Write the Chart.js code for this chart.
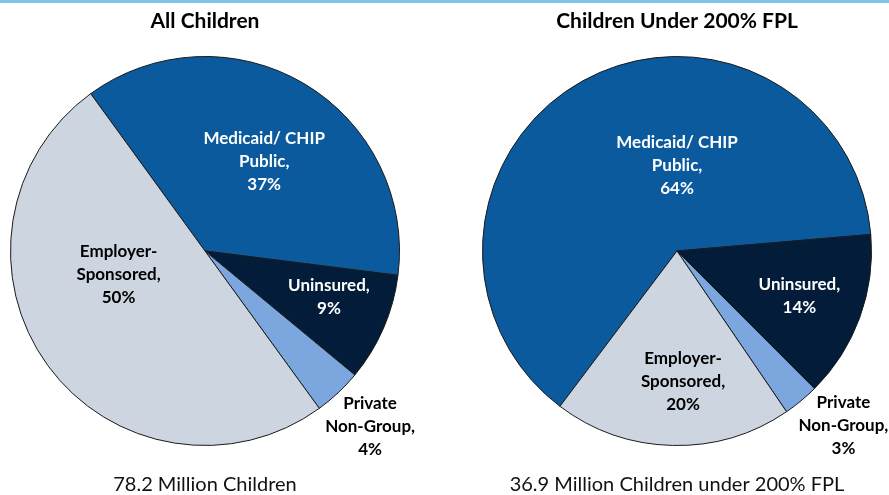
<!DOCTYPE html>
<html>
<head>
<meta charset="utf-8">
<script src="https://cdn.jsdelivr.net/npm/chart.js@4.4.0/dist/chart.umd.min.js"></script>
<style>
  html, body { margin: 0; padding: 0; background: #fff; }
  body { width: 889px; height: 495px; position: relative; overflow: hidden; }
  #barra { position: absolute; left: 0; top: 0; width: 889px; height: 3px; background: #7dc4ea; z-index: 2; }
  .caixa { position: absolute; top: 0; height: 495px; }
</style>
</head>
<body>
<div id="barra"></div>
<div class="caixa" style="left:0;width:444px"><canvas id="pie-todas"></canvas></div>
<div class="caixa" style="left:444px;width:445px"><canvas id="pie-fpl"></canvas></div>
<script>
const categorias = ['Medicaid/ CHIP Public', 'Uninsured', 'Private Non-Group', 'Employer-Sponsored']
const nomesLinhas = [['Medicaid/ CHIP', 'Public,'], ['Uninsured,'], ['Private', 'Non-Group,'], ['Employer-', 'Sponsored,']]
const todasCriancas = [37, 9, 4, 50]
const abaixoFpl = [64, 14, 3, 20]
const titulos = ['All Children', 'Children Under 200% FPL']
const legendas = ['78.2 Million Children', '36.9 Million Children under 200% FPL']

const cores = ['#0b5a9e', '#021c39', '#7ba7de', '#cdd5e0']
const corTexto = ['#fff', '#fff', '#000', '#000']
const fonte = 'Lato, "Open Sans", sans-serif'

// labels: [radius factor, angle shift in degrees] relative to slice middle
const posTodas = [[0.55, 3], [0.68, -3], [1.24, 0], [0.46, 21]]
const posFpl = [[0.44, 29], [0.67, 0], [1.24, -4], [0.67, -4]]

const rotulosPlugin = {
  id: 'rotulos',
  afterDatasetsDraw(chart, args, opts) {
    const ctx = chart.ctx
    const meta = chart.getDatasetMeta(0)
    const valores = chart.data.datasets[0].data
    ctx.save()
    ctx.font = 'bold 17px ' + fonte
    ctx.textAlign = 'center'
    ctx.textBaseline = 'middle'
    meta.data.forEach((arc, i) => {
      const p = arc.getProps(['x', 'y', 'startAngle', 'endAngle', 'outerRadius'], true)
      const pos = opts.pos[i]
      const ang = (p.startAngle + p.endAngle) / 2 + pos[1] * Math.PI / 180
      const r = p.outerRadius * pos[0]
      const cx = p.x + Math.cos(ang) * r
      const cy = p.y + Math.sin(ang) * r
      const linhas = nomesLinhas[i].concat([valores[i] + '%'])
      ctx.fillStyle = corTexto[i]
      linhas.forEach((l, k) => ctx.fillText(l, cx, cy + (k - (linhas.length - 1) / 2) * 23))
    })
    ctx.restore()
  }
}

function fazPizza(id, dados, titulo, legenda, rotacao, padding, pos) {
  return new Chart(document.getElementById(id), {
    type: 'pie',
    data: {
      labels: categorias,
      datasets: [{
        data: dados,
        backgroundColor: cores,
        borderColor: '#1a1a1a',
        borderWidth: 1
      }]
    },
    options: {
      responsive: true,
      maintainAspectRatio: false,
      animation: false,
      rotation: rotacao,
      layout: { padding: padding },
      plugins: {
        legend: { display: false },
        tooltip: { enabled: false },
        title: {
          display: true,
          text: titulo,
          color: '#000',
          font: { family: fonte, size: 21, weight: 'bold', lineHeight: 1.2 },
          padding: { top: 9, bottom: 21.8 }
        },
        subtitle: {
          display: true,
          position: 'bottom',
          text: legenda,
          color: '#111',
          font: { family: fonte, size: 20, weight: 'normal', lineHeight: 1 },
          padding: { top: 29, bottom: 0 }
        },
        rotulos: { pos: pos }
      }
    },
    plugins: [rotulosPlugin]
  })
}

fazPizza('pie-todas', todasCriancas, titulos[0], legendas[0], -36, { left: 10, right: 44, top: 0, bottom: 0 }, posTodas)
fazPizza('pie-fpl', abaixoFpl, titulos[1], legendas[1], -143, { left: 38, right: 17, top: 0, bottom: 0 }, posFpl)
</script>
</body>
</html>
